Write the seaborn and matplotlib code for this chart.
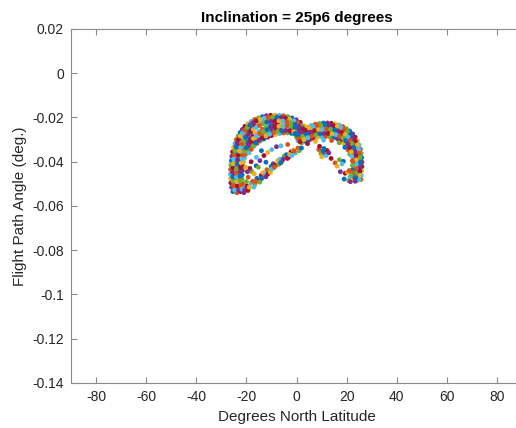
import numpy as np
import pandas as pd
import matplotlib
matplotlib.use("Agg")
import matplotlib.pyplot as plt
import seaborn as sns

# =================================================================
# 1. DATOS (latitud en grados, angulo en grados)
# =================================================================
# Arco izquierdo: filas de puntos desde el borde exterior hacia dentro
left_arc_x = [
    -25.4, -25.9, -26.2, -26.3, -26.4, -26.3, -26.2, -26.0, -25.8, -25.5, -25.1,
    -24.6, -24.0, -23.3, -22.5, -21.6, -20.6, -19.4, -18.1, -16.7, -15.2, -13.6,
    -12.0, -10.3, -8.6, -6.9, -5.2, -3.5, -1.8, -0.1, 1.5, 3.0, 4.4,
    -23.8, -24.3, -24.6, -24.7, -24.7, -24.6, -24.5, -24.3, -24.1, -23.8, -23.4,
    -22.9, -22.3, -21.6, -20.8, -19.9, -18.9, -17.8, -16.5, -15.1, -13.6, -12.0,
    -10.4, -8.7, -7.0, -5.3, -3.6, -1.9, -0.2, 1.4, 2.9, 4.3,
    -22.4, -22.9, -23.2, -23.3, -23.3, -23.2, -23.0, -22.7, -22.3, -21.8, -21.2,
    -20.5, -19.6, -18.6, -17.5, -16.3, -15.0, -13.6, -12.1, -10.5, -8.9, -7.3,
    -5.7, -4.1, -2.5, -0.9, 0.7, 2.2, 3.6, 4.9,
    -21.0, -21.5, -21.7, -21.7, -21.6, -21.4, -21.1, -20.7, -20.2, -19.5, -18.7,
    -17.8, -16.7, -15.5, -14.2, -12.8, -11.3, -9.8, -8.2, -6.6, -5.0, -3.4,
    -1.8, -0.2, 1.4, 2.9, 4.2,
    -18.0, -16.9, -15.7, -14.4, -13.0, -11.5, -10.0, -8.4, -6.8, -5.2, -3.6,
    -2.0, -0.4, 1.2, 2.7,
    # filas intermedias
    -24.7, -25.2, -25.4, -25.5, -25.5, -25.4, -25.3, -25.1, -24.9, -24.6, -24.2,
    -23.7, -23.1, -22.4, -21.6, -20.7, -19.7, -18.6, -17.4, -16.0, -14.5, -12.9,
    -11.2, -9.5, -7.8, -6.1, -4.4, -2.7, -1.0, 0.6, 2.2, 3.7,
    -23.1, -23.6, -23.9, -24.0, -24.0, -23.9, -23.7, -23.5, -23.2, -22.8, -22.3,
    -21.7, -21.0, -20.2, -19.3, -18.3, -17.2, -16.0, -14.7, -13.3, -11.8, -10.2,
    -8.6, -7.0, -5.4, -3.8, -2.2, -0.6, 1.0, 2.5, 3.9,
    -21.7, -22.2, -22.5, -22.5, -22.4, -22.3, -22.1, -21.7, -21.3, -20.7, -20.0,
    -19.2, -18.3, -17.2, -16.0, -14.7, -13.3, -11.8, -10.2, -8.6, -7.0, -5.4,
    -3.8, -2.2, -0.6, 1.0, 2.5, 3.9,
    -19.0, -18.2, -17.3, -16.2, -15.0, -13.7, -12.2, -10.7, -9.1, -7.5, -5.9,
    -4.3, -2.7, -1.1, 0.5, 2.0, 3.4,
]
left_arc_y = [
    -0.0535, -0.0515, -0.0495, -0.0475, -0.0455, -0.0435, -0.0415, -0.0395, -0.0375, -0.0355, -0.0335,
    -0.0318, -0.0300, -0.0284, -0.0268, -0.0254, -0.0240, -0.0228, -0.0218, -0.0209, -0.0202, -0.0196,
    -0.0192, -0.0190, -0.0189, -0.0190, -0.0192, -0.0196, -0.0202, -0.0210, -0.0222, -0.0238, -0.0256,
    -0.0540, -0.0520, -0.0500, -0.0480, -0.0460, -0.0440, -0.0420, -0.0400, -0.0380, -0.0362, -0.0344,
    -0.0327, -0.0311, -0.0296, -0.0282, -0.0270, -0.0258, -0.0247, -0.0237, -0.0228, -0.0220, -0.0214,
    -0.0209, -0.0207, -0.0207, -0.0209, -0.0213, -0.0219, -0.0227, -0.0239, -0.0253, -0.0268,
    -0.0535, -0.0515, -0.0495, -0.0475, -0.0455, -0.0435, -0.0415, -0.0395, -0.0376, -0.0358, -0.0341,
    -0.0325, -0.0310, -0.0296, -0.0284, -0.0272, -0.0262, -0.0253, -0.0245, -0.0238, -0.0232, -0.0228,
    -0.0226, -0.0226, -0.0229, -0.0235, -0.0243, -0.0255, -0.0268, -0.0282,
    -0.0520, -0.0500, -0.0480, -0.0460, -0.0440, -0.0420, -0.0400, -0.0382, -0.0365, -0.0349, -0.0334,
    -0.0320, -0.0307, -0.0295, -0.0285, -0.0276, -0.0268, -0.0261, -0.0256, -0.0252, -0.0250, -0.0250,
    -0.0253, -0.0258, -0.0265, -0.0276, -0.0290,
    -0.0345, -0.0330, -0.0317, -0.0306, -0.0297, -0.0289, -0.0282, -0.0277, -0.0273, -0.0270, -0.0270,
    -0.0272, -0.0277, -0.0284, -0.0295,
    # filas intermedias
    -0.0528, -0.0508, -0.0488, -0.0468, -0.0448, -0.0428, -0.0408, -0.0388, -0.0368, -0.0350, -0.0332,
    -0.0315, -0.0299, -0.0284, -0.0270, -0.0257, -0.0245, -0.0234, -0.0224, -0.0215, -0.0208, -0.0203,
    -0.0199, -0.0198, -0.0198, -0.0200, -0.0203, -0.0208, -0.0215, -0.0225, -0.0238, -0.0253,
    -0.0530, -0.0510, -0.0490, -0.0470, -0.0450, -0.0430, -0.0410, -0.0390, -0.0370, -0.0352, -0.0335,
    -0.0319, -0.0304, -0.0290, -0.0277, -0.0265, -0.0254, -0.0244, -0.0236, -0.0228, -0.0222, -0.0218,
    -0.0216, -0.0215, -0.0216, -0.0219, -0.0224, -0.0231, -0.0240, -0.0252, -0.0265,
    -0.0525, -0.0505, -0.0485, -0.0465, -0.0445, -0.0425, -0.0405, -0.0387, -0.0370, -0.0353, -0.0337,
    -0.0322, -0.0308, -0.0295, -0.0283, -0.0272, -0.0263, -0.0255, -0.0248, -0.0243, -0.0240, -0.0238,
    -0.0238, -0.0241, -0.0246, -0.0254, -0.0264, -0.0277,
    -0.0360, -0.0343, -0.0328, -0.0314, -0.0302, -0.0292, -0.0283, -0.0275, -0.0268, -0.0263, -0.0260,
    -0.0259, -0.0260, -0.0264, -0.0270, -0.0279, -0.0290,
]

# Arco derecho
right_arc_x = [
    -0.5, 1.1, 2.7, 4.3, 5.9, 7.5, 9.1, 10.7, 12.3, 13.9, 15.5, 17.0, 18.5, 19.9,
    21.2, 22.4, 23.4, 24.3, 25.0, 25.5, 25.8, 26.0, 26.1, 26.1, 26.0, 25.9, 25.7,
    0.0, 1.6, 3.2, 4.8, 6.4, 8.0, 9.6, 11.2, 12.8, 14.4, 15.9, 17.3, 18.6, 19.8,
    20.9, 21.8, 22.6, 23.3, 23.8, 24.2, 24.4, 24.5, 24.5, 24.4, 24.3, 24.1,
    0.6, 2.2, 3.8, 5.4, 7.0, 8.6, 10.2, 11.8, 13.4, 15.0, 16.5, 17.9, 19.1, 20.2,
    21.1, 21.8, 22.4, 22.8, 23.0, 23.1, 23.1, 23.0, 22.9,
    2.0, 3.6, 5.2, 6.8, 8.4, 10.0, 11.6, 13.2, 14.8, 16.3, 17.6, 18.8, 19.8, 20.6, 21.2,
    # filas intermedias
    0.3, 1.9, 3.5, 5.1, 6.7, 8.3, 9.9, 11.5, 13.1, 14.7, 16.3, 17.7, 19.1, 20.4,
    21.6, 22.6, 23.5, 24.2, 24.8, 25.1, 25.3, 25.4, 25.4, 25.3, 25.2, 25.0,
    0.8, 2.4, 4.0, 5.6, 7.2, 8.8, 10.4, 12.0, 13.6, 15.2, 16.7, 18.1, 19.4, 20.5,
    21.4, 22.2, 22.9, 23.4, 23.7, 23.8, 23.9, 23.8, 23.7, 23.6, 23.4,
    1.4, 3.0, 4.6, 6.2, 7.8, 9.4, 11.0, 12.6, 14.2, 15.8, 17.2, 18.5, 19.6, 20.5,
    21.2, 21.8, 22.1, 22.3, 22.3, 22.3, 22.2,
    4.4, 7.6, 10.8, 14.0, 17.0, 19.3,
]
right_arc_y = [
    -0.0272, -0.0262, -0.0252, -0.0243, -0.0236, -0.0230, -0.0227, -0.0225, -0.0225, -0.0226, -0.0229,
    -0.0234, -0.0241, -0.0250, -0.0261, -0.0274, -0.0289, -0.0306, -0.0324, -0.0343, -0.0362, -0.0382,
    -0.0402, -0.0422, -0.0442, -0.0462, -0.0480,
    -0.0290, -0.0279, -0.0268, -0.0259, -0.0252, -0.0247, -0.0244, -0.0243, -0.0243, -0.0245, -0.0249,
    -0.0255, -0.0263, -0.0273, -0.0285, -0.0299, -0.0315, -0.0332, -0.0350, -0.0369, -0.0389, -0.0409,
    -0.0429, -0.0449, -0.0469, -0.0487,
    -0.0305, -0.0294, -0.0284, -0.0276, -0.0269, -0.0264, -0.0262, -0.0261, -0.0262, -0.0265, -0.0270,
    -0.0278, -0.0288, -0.0301, -0.0316, -0.0333, -0.0352, -0.0372, -0.0392, -0.0412, -0.0432, -0.0452,
    -0.0472,
    -0.0315, -0.0308, -0.0301, -0.0295, -0.0290, -0.0287, -0.0286, -0.0287, -0.0290, -0.0296, -0.0305,
    -0.0317, -0.0331, -0.0347, -0.0365,
    # filas intermedias
    -0.0280, -0.0268, -0.0257, -0.0248, -0.0241, -0.0237, -0.0235, -0.0234, -0.0234, -0.0236, -0.0240,
    -0.0246, -0.0254, -0.0264, -0.0277, -0.0292, -0.0308, -0.0325, -0.0343, -0.0362, -0.0382, -0.0402,
    -0.0422, -0.0442, -0.0462, -0.0480,
    -0.0296, -0.0285, -0.0275, -0.0266, -0.0259, -0.0255, -0.0253, -0.0252, -0.0253, -0.0256, -0.0261,
    -0.0268, -0.0277, -0.0289, -0.0303, -0.0318, -0.0335, -0.0353, -0.0372, -0.0392, -0.0412, -0.0432,
    -0.0452, -0.0472, -0.0488,
    -0.0310, -0.0300, -0.0291, -0.0284, -0.0278, -0.0274, -0.0272, -0.0272, -0.0274, -0.0278, -0.0284,
    -0.0293, -0.0305, -0.0320, -0.0337, -0.0356, -0.0376, -0.0396, -0.0416, -0.0436, -0.0456,
    -0.0318, -0.0308, -0.0302, -0.0304, -0.0314, -0.0335,
]

# Puntos dispersos dentro de los arcos
inner_x = [
    -20.6, -19.8, -19.0, -18.2, -17.5, -16.6, -15.8, -15.0, -14.1, -13.4, -12.6,
    -11.8, -10.9, -10.1, -9.3, -8.4, -7.5, -6.6, -5.8, -4.9, -4.0, -3.1, -2.2,
    -1.3, -0.4, 0.6,
    -17.8, -16.1, -14.6, -13.0, -11.5, -9.9, -19.3, -15.2, -12.2, -8.0, -18.6,
    -16.9, -6.2, -3.5, -20.0, -14.0,
    -21.0, -19.4, -18.8, -17.0, -16.2, -14.6, -13.8, -12.2, -11.4, -10.4, -9.7,
    -8.8, -7.1, -6.3, -5.3, -3.6, -2.7, -1.8, -0.9, 1.1, 2.0, -19.6, -18.1,
    -20.3, -16.0,
    8.9, 9.7, 10.6, 11.4, 12.2, 10.1, 11.8, 15.4, 17.1, 18.7, 17.5, 19.4, 20.4,
    21.3, 22.2, 20.8,
    10.9, 12.9, 13.8, 16.2, 18.2, 21.0, 21.8, 19.0, 21.5, 9.2,
]
inner_y = [
    -0.0528, -0.0510, -0.0522, -0.0497, -0.0488, -0.0502, -0.0475, -0.0483, -0.0462, -0.0449, -0.0458,
    -0.0436, -0.0442, -0.0421, -0.0409, -0.0416, -0.0395, -0.0388, -0.0398, -0.0374, -0.0368, -0.0379,
    -0.0355, -0.0347, -0.0361, -0.0338,
    -0.0445, -0.0418, -0.0395, -0.0372, -0.0358, -0.0345, -0.0470, -0.0425, -0.0402, -0.0332, -0.0430,
    -0.0455, -0.0328, -0.0322, -0.0490, -0.0350,
    -0.0540, -0.0530, -0.0515, -0.0515, -0.0490, -0.0492, -0.0475, -0.0468, -0.0455, -0.0448, -0.0432,
    -0.0425, -0.0412, -0.0405, -0.0388, -0.0385, -0.0368, -0.0372, -0.0352, -0.0350, -0.0338, -0.0445,
    -0.0400, -0.0425, -0.0380,
    -0.0345, -0.0362, -0.0351, -0.0368, -0.0349, -0.0378, -0.0372, -0.0405, -0.0391, -0.0398, -0.0445,
    -0.0452, -0.0447, -0.0470, -0.0448, -0.0485,
    -0.0340, -0.0360, -0.0385, -0.0420, -0.0410, -0.0440, -0.0460, -0.0478, -0.0490, -0.0330,
]

x_ticks = [-80, -60, -40, -20, 0, 20, 40, 60, 80]
x_tick_labels = ["-80", "-60", "-40", "-20", "0", "20", "40", "60", "80"]
y_ticks = [0.02, 0.0, -0.02, -0.04, -0.06, -0.08, -0.1, -0.12, -0.14]
y_tick_labels = ["0.02", "0", "-0.02", "-0.04", "-0.06", "-0.08", "-0.1", "-0.12", "-0.14"]

# Orden de colores por defecto de MATLAB
MATLAB_COLORS = ["#0072BD", "#D95319", "#EDB120", "#7E2F8E",
                 "#77AC30", "#4DBEEE", "#A2142F"]
AXIS_GRAY = "#8a8a8a"
TEXT_GRAY = "#262626"


def construir_tabla():
    """Une todas las series en un DataFrame y asigna el color ciclico."""
    df = pd.DataFrame({
        "lat": left_arc_x + right_arc_x + inner_x,
        "fpa": left_arc_y + right_arc_y + inner_y,
    })
    df["serie"] = (np.arange(len(df)) * 3) % len(MATLAB_COLORS)
    return df


def dibujar(df):
    sns.set_style("ticks")
    plt.rcParams["font.family"] = ["Liberation Sans", "DejaVu Sans"]
    plt.rcParams["axes.unicode_minus"] = False

    fig = plt.figure(figsize=(5.16, 4.28), dpi=100)
    # El eje derecho queda fuera de la imagen, como en la captura original
    ax = fig.add_axes([71 / 516, 45 / 428, 451 / 516, 354 / 428])

    sns.scatterplot(data=df, x="lat", y="fpa", hue="serie",
                    palette=MATLAB_COLORS, s=12, linewidth=0,
                    legend=False, ax=ax)

    ax.set_xlim(-90, 90)
    ax.set_ylim(-0.14, 0.02)
    ax.set_xticks(x_ticks)
    ax.set_xticklabels(x_tick_labels)
    ax.set_yticks(y_ticks)
    ax.set_yticklabels(y_tick_labels)

    for spine in ax.spines.values():
        spine.set_visible(True)
        spine.set_color(AXIS_GRAY)
        spine.set_linewidth(0.8)
    ax.tick_params(direction="in", top=True, right=True, length=4,
                   width=0.8, color=AXIS_GRAY, labelcolor=TEXT_GRAY,
                   labelsize=10, pad=5)

    ax.set_xlabel("Degrees North Latitude", fontsize=11, color=TEXT_GRAY)
    ax.set_ylabel("Flight Path Angle (deg.)", fontsize=11, color=TEXT_GRAY)
    ax.set_title("Inclination = 25p6 degrees", fontsize=11,
                 fontweight="bold", color="black", pad=5)

    fig.savefig("out.png", dpi=100)
    plt.close(fig)


if __name__ == "__main__":
    datos = construir_tabla()
    dibujar(datos)
